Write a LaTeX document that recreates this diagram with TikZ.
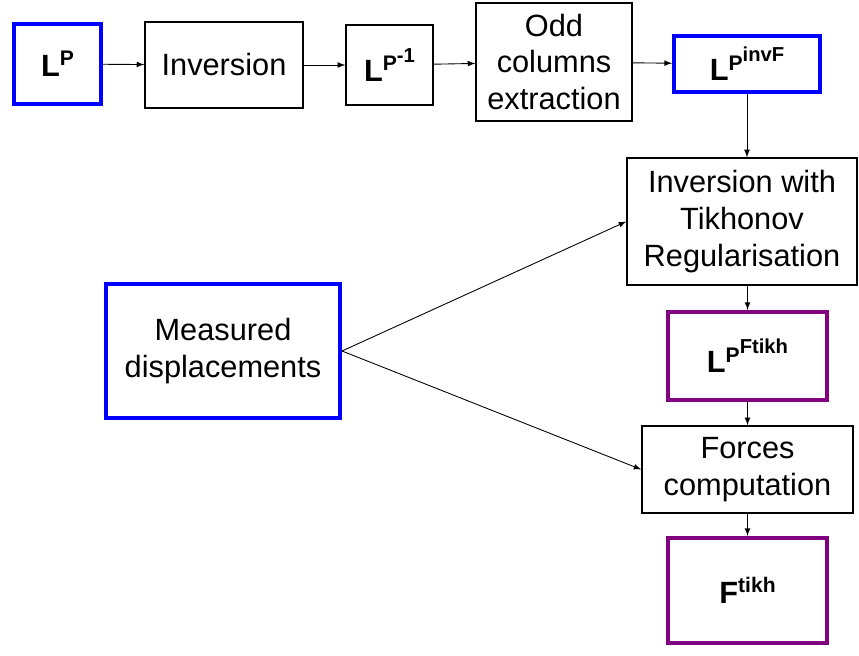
\documentclass[tikz,border=0pt]{standalone}
\usepackage{fontspec}
\setmainfont{Liberation Sans}
\usepackage{tikz}
\usetikzlibrary{shapes}
\usetikzlibrary{arrows}
\definecolor{resultviolet}{RGB}{128,0,128}
\newcommand{\upone}[1]{\raisebox{6pt}{\fontsize{12}{12}\selectfont #1}}
\newcommand{\uptwo}[1]{\raisebox{4.8pt}{\fontsize{11.5}{11.5}\selectfont #1}}
\tikzstyle{inputbox}=[rectangle,draw=blue,line width=2.3pt,inner sep=0mm,align=center]
\tikzstyle{stepbox}=[rectangle,draw=black,line width=0.8pt,inner sep=0mm,align=center]
\tikzstyle{resultbox}=[rectangle,draw=resultviolet,line width=2.3pt,inner sep=0mm,align=center]
\tikzstyle{arrow}=[->,>=latex,line width=0.5pt]
\tikzset{every node/.style={font=\fontsize{17.5}{21}\selectfont}}

\begin{document}
\begin{tikzpicture}
    \useasboundingbox (0,0) rectangle (17.18,-13.1);
    \node[inputbox,minimum width=1.74cm,minimum height=1.6cm] at (1.15,-1.28) (lp) {\textbf{L\upone{P}}};
    \node[stepbox,minimum width=3.16cm,minimum height=1.72cm] at (4.48,-1.3) (inv) {Inversion};
    \node[stepbox,minimum width=1.74cm,minimum height=1.6cm] at (7.79,-1.3) (lpinv) {\textbf{L\upone{P\uptwo{-1}}}};
    \node[stepbox,minimum width=3.12cm,minimum height=2.36cm] at (11.08,-1.24) (odd) {Odd\\columns\\extraction};
    \node[inputbox,minimum width=2.92cm,minimum height=1.12cm] at (14.94,-1.28) (lpinvf) {\textbf{L\upone{P\uptwo{invF}}}};
    \draw[arrow] (lp) -- (inv);
    \draw[arrow] (inv) -- (lpinv);
    \draw[arrow] (lpinv) -- (odd);
    \draw[arrow] (odd) -- (lpinvf);
    \node[stepbox,minimum width=4.6cm,minimum height=2.54cm] at (14.84,-4.43) (tikh) {Inversion with\\Tikhonov\\Regularisation};
    \draw[arrow] (lpinvf.south) -- (lpinvf.south |- tikh.north);
    \node[inputbox,minimum width=4.68cm,minimum height=2.68cm] at (4.46,-7.02) (meas) {Measured\\displacements};
    \node[resultbox,minimum width=3.18cm,minimum height=1.76cm] at (14.95,-7.12) (lpft) {\textbf{L\upone{P\uptwo{Ftikh}}}};
    \node[stepbox,minimum width=4.22cm,minimum height=1.74cm] at (14.95,-9.39) (forces) {Forces\\computation};
    \node[resultbox,minimum width=3.18cm,minimum height=2.1cm] at (14.95,-11.81) (ft) {\textbf{F\upone{tikh}}};
    \draw[arrow] (meas.east) -- (tikh.west);
    \draw[arrow] (meas.east) -- (forces.west);
    \draw[arrow] (lpft.north |- tikh.south) -- (lpft.north);
    \draw[arrow] (lpft) -- (forces);
    \draw[arrow] (forces) -- (ft);
  \end{tikzpicture}
\end{document}
